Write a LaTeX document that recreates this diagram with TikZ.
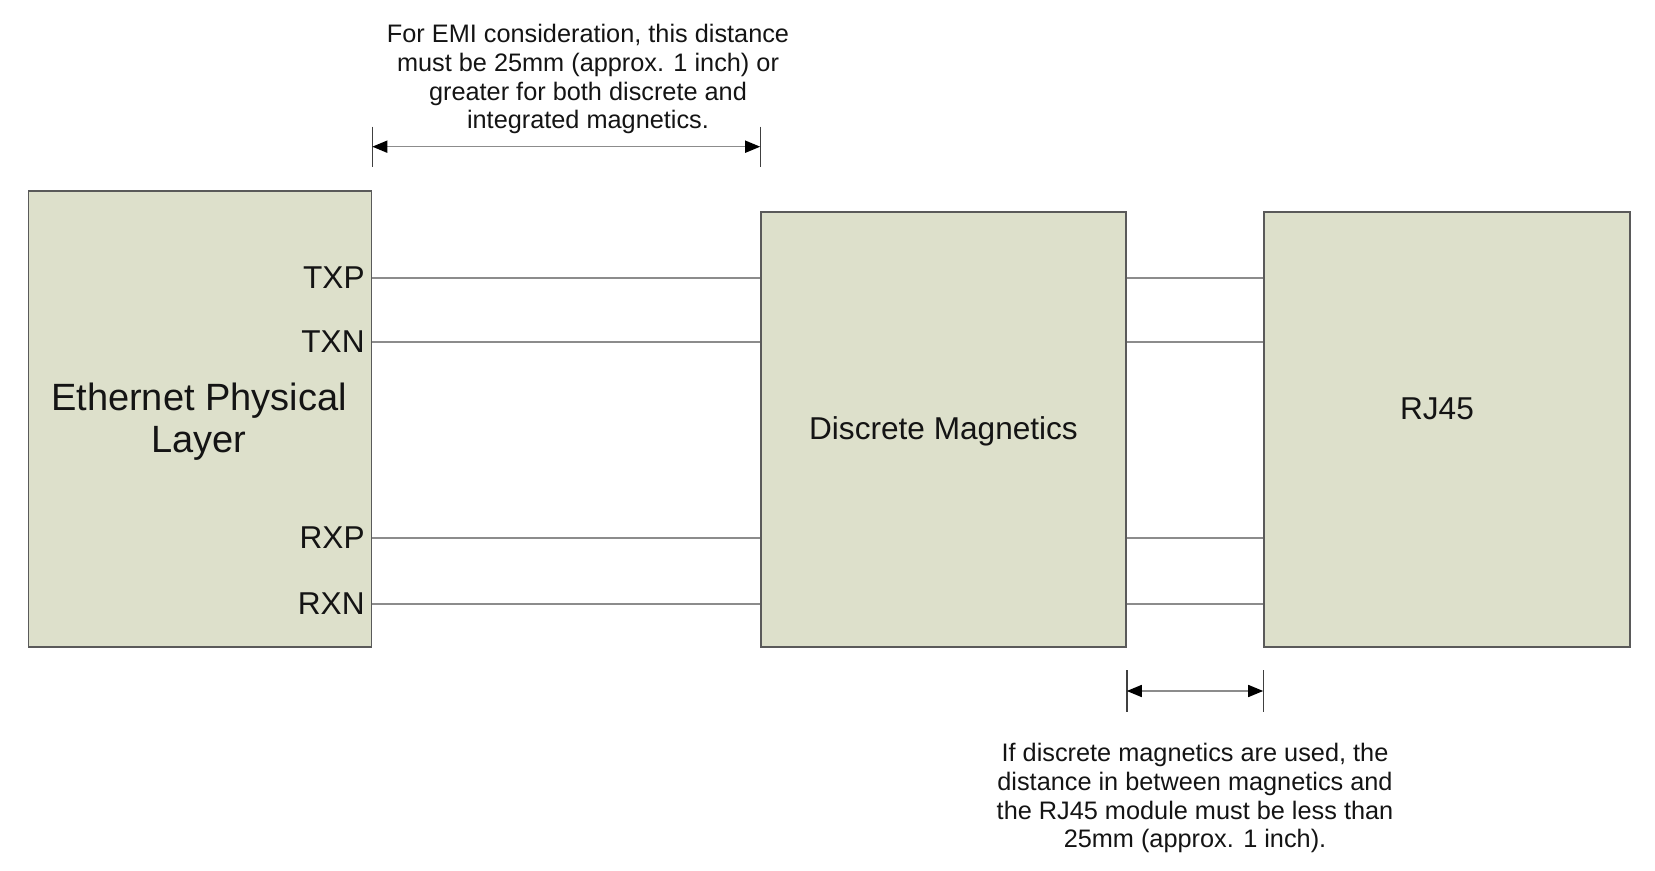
\documentclass[tikz,border=0pt]{standalone}
\usepackage{fontspec}
\setmainfont{Liberation Sans}
\usetikzlibrary{arrows.meta}
\definecolor{boxfill}{RGB}{221,224,203}
\definecolor{boxline}{RGB}{90,90,90}
\definecolor{sigline}{RGB}{140,140,140}
\definecolor{txt}{RGB}{20,20,20}
\begin{document}
\begin{tikzpicture}[x=0.5pt,y=-0.5pt,
  blk/.style={draw=boxline,fill=boxfill,line width=0.8pt,inner sep=0pt,text=txt},
  sig/.style={draw=sigline,line width=1pt},
  pin/.style={anchor=east,inner sep=0pt,font=\fontsize{15.8pt}{18pt}\selectfont,text=txt},
  note/.style={align=center,inner sep=0pt,font=\fontsize{12.65pt}{14.3pt}\selectfont,text=txt},
  dimarrow/.style={draw=sigline,line width=0.8pt,{Triangle[length=7.5pt,width=6pt,fill=black,color=black]}-{Triangle[length=7.5pt,width=6pt,fill=black,color=black]}},
  tick/.style={draw=black!75,line width=0.7pt}]
\useasboundingbox (0,0) rectangle (1655,871);
\node[blk,minimum width=171.5pt,minimum height=228pt] (phy) at (200,419) {};
\node[inner sep=0pt,align=center,text=txt,
  font=\fontsize{19pt}{21pt}\selectfont] (phyl) at (199,422) {Ethernet Physical\\Layer};
\node[blk,minimum width=182.5pt,minimum height=217.5pt] (mag) at (943.5,429.5) {};
\node[inner sep=0pt,text=txt,font=\fontsize{15.8pt}{18pt}\selectfont] (magl) at (943.5,431.5) {Discrete Magnetics};
\node[blk,minimum width=183pt,minimum height=217.5pt] (rj) at (1447,429.5) {};
\node[inner sep=0pt,font=\fontsize{15.8pt}{18pt}\selectfont,text=txt] (rjl) at (1437,408.5) {RJ45};
% pin labels
\node[pin] (ltxp) at (365,277.6) {TXP};
\node[pin] (ltxn) at (365,342) {TXN};
\node[pin] (lrxp) at (365,538) {RXP};
\node[pin] (lrxn) at (365,604) {RXN};
% signal lines
\foreach \p in {ltxp,ltxn,lrxp,lrxn}{
  \draw[sig] (phy.east |- \p) -- (mag.west |- \p);
  \draw[sig] (mag.east |- \p) -- (rj.west |- \p);
}
% top dimension
\coordinate (topdim) at (0,146.7);
\coordinate (toptickA) at (0,126.7);
\coordinate (toptickB) at (0,166.8);
\draw[tick] (phy.east |- toptickA) -- (phy.east |- toptickB);
\draw[tick] (mag.west |- toptickA) -- (mag.west |- toptickB);
\draw[dimarrow] (phy.east |- topdim) -- (mag.west |- topdim);
\node[note] (topnote) at (588,79.3) {For EMI consideration, this distance\\must be 25mm (approx. 1 inch) or\\greater for both discrete and\\integrated magnetics.};
% bottom dimension
\coordinate (botdim) at (0,691);
\coordinate (bottickA) at (0,670);
\coordinate (bottickB) at (0,712);
\draw[tick] (mag.east |- bottickA) -- (mag.east |- bottickB);
\draw[tick] (rj.west |- bottickA) -- (rj.west |- bottickB);
\draw[dimarrow] (mag.east |- botdim) -- (rj.west |- botdim);
\node[note] (botnote) at (1195,798.2) {If discrete magnetics are used, the\\distance in between magnetics and\\the RJ45 module must be less than\\25mm (approx. 1 inch).};
\end{tikzpicture}
\end{document}
